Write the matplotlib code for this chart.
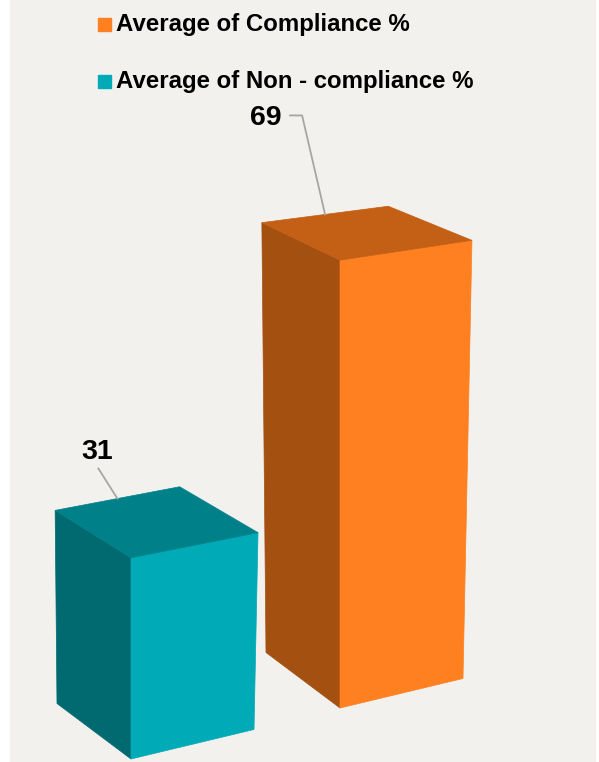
import matplotlib
matplotlib.use("Agg")
import matplotlib.pyplot as plt
from matplotlib.patches import Polygon, Rectangle
import numpy as np

plt.rcParams['font.family'] = ['Liberation Sans', 'DejaVu Sans']

# data
categories = ["Average of Non - compliance %", "Average of Compliance %"]
values = [31, 69]
legend_order = ["Average of Compliance %", "Average of Non - compliance %"]

# colours: (front face, side face, top face)
shades = {
    "Average of Compliance %": ("#FF8020", "#A35011", "#C46015"),
    "Average of Non - compliance %": ("#00AAB6", "#006A70", "#00818A"),
}

# fake 3d projection onto the picture (pixel-like axes)
ORIGIN = np.array([131.0, 759.0])
GAP = np.array([209.0, -51.0])
W0 = np.array([123.0, -29.5])
D0 = np.array([-74.0, -55.5])
H0, HU, HV = 6.49, 0.14, 0.26      # px per unit, shrinks towards the back
WXZ, DXZ = 0.13, -0.06
UVZ = np.array([-0.08, 0.05])


def proj(i, u, v, z):
    p = ORIGIN + i * GAP + u * W0 + v * D0
    p = p + np.array([z * (u * WXZ + v * DXZ), -z * (H0 - HU * u - HV * v)])
    return p + UVZ * z * u * v


fig = plt.figure(figsize=(5.99, 7.62), dpi=100, facecolor="white")
ax = fig.add_axes([0, 0, 1, 1])
ax.set_xlim(0, 599)
ax.set_ylim(762, 0)
ax.axis('off')

ax.add_patch(Rectangle((10, 0), 585, 761, color="#F2F1EE", zorder=0))

# label placement (text position relative to anchor, leader points)
label_text_off = [(-20, -40), (-59, -89)]
leader_pts = [[(-19, -30)], [(-35, -99), (-23, -99)]]

for i, (cat, val) in enumerate(zip(categories, values)):
    front, side, top = shades[cat]
    fb, ft = proj(i, 0, 0, 0), proj(i, 0, 0, val)
    lb, lt = proj(i, 0, 1, 0), proj(i, 0, 1, val)
    rb, rt = proj(i, 1, 0, 0), proj(i, 1, 0, val)
    bt = proj(i, 1, 1, val)
    ax.add_patch(Polygon([fb, ft, lt, lb], closed=True, fc=side, ec=side, lw=0.5, zorder=2))
    ax.add_patch(Polygon([fb, ft, rt, rb], closed=True, fc=front, ec=front, lw=0.5, zorder=2))
    ax.add_patch(Polygon([ft, lt, bt, rt], closed=True, fc=top, ec=top, lw=0.5, zorder=3))

    # data label with leader line to the middle of the back-left top edge
    anchor = (lt + bt) / 2
    pts = np.array([anchor + np.array(p) for p in leader_pts[i]] + [anchor])
    ax.plot(pts[:, 0], pts[:, 1], color="#A6A6A6", lw=1.3, zorder=4)
    tx, ty = anchor + np.array(label_text_off[i])
    ax.text(tx, ty, str(val), fontsize=20.5, fontweight='bold', ha='center',
            va='baseline', color='black', zorder=5)

# legend
for k, cat in enumerate(legend_order):
    y = 31 + k * 57
    ax.add_patch(Rectangle((98, y - 13), 13, 13, color=shades[cat][0], zorder=5))
    ax.text(116, y, cat, fontsize=17.3, fontweight='bold', ha='left', va='baseline',
            color='black', zorder=5)

fig.savefig("out.png", dpi=100, facecolor=fig.get_facecolor())
